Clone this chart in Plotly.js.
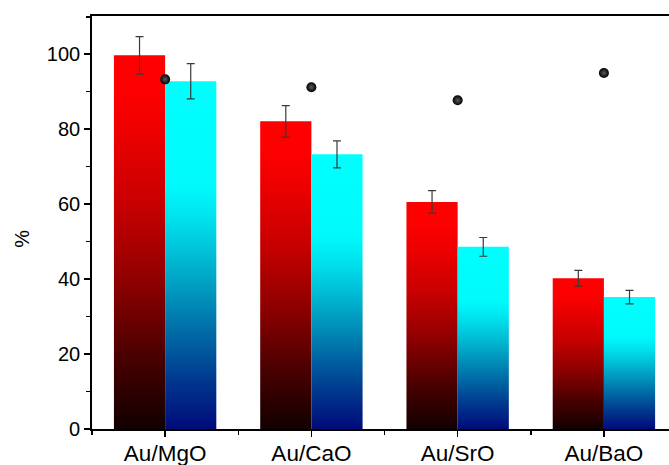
<!DOCTYPE html>
<html>
<head>
<meta charset="utf-8">
<script src="https://cdn.plot.ly/plotly-3.0.1.min.js"></script>
<style>html,body{margin:0;padding:0;background:#fff;}#chart{width:669px;height:465px;}</style>
</head>
<body>
<div id="chart"></div>
<script>
// ---- data ----
const categories = ['Au/MgO', 'Au/CaO', 'Au/SrO', 'Au/BaO'];
const redValues  = [99.7, 82.1, 60.6, 40.2];
const redErrors  = [5.0, 4.2, 3.0, 2.1];
const cyanValues = [92.8, 73.3, 48.6, 35.2];
const cyanErrors = [4.7, 3.6, 2.5, 1.8];
const dotValues  = [93.3, 91.2, 87.7, 95.0];
const yTitle = '%';

// ---- style ----
const barWidth = 0.35;
const redScale = [[0,'#120000'],[0.2,'#4c0000'],[0.4,'#900000'],[0.6,'#c80000'],[0.8,'#ee0000'],[0.9,'#fd0000'],[1,'#ff0000']];
const cyanScale = [[0,'#000a7a'],[0.15,'#003c90'],[0.3,'#0074aa'],[0.45,'#00acca'],[0.6,'#00e0ec'],[0.7,'#00fafc'],[1,'#00ffff']];
const idx = categories.map((c, i) => i);

const traces = [];
function addBars(values, offset, scale) {
  values.forEach((v, i) => {
    const x0 = i + offset - barWidth / 2, x1 = i + offset + barWidth / 2;
    traces.push({
      type: 'scatter', mode: 'none', fill: 'toself',
      x: [x0, x0, x1, x1, x0], y: [0, v, v, 0, 0],
      fillgradient: {type: 'vertical', start: 0, stop: v, colorscale: scale},
      hoverinfo: 'skip', showlegend: false
    });
  });
}
addBars(redValues, -barWidth / 2, redScale);
addBars(cyanValues, barWidth / 2, cyanScale);

function addErr(values, errs, offset) {
  traces.push({
    type: 'scatter', mode: 'markers',
    x: idx.map(i => i + offset), y: values,
    marker: {size: 1, opacity: 0},
    error_y: {type: 'data', array: errs, visible: true, color: '#3a3a3a', thickness: 1.2, width: 4},
    showlegend: false
  });
}
addErr(redValues, redErrors, -barWidth / 2);
addErr(cyanValues, cyanErrors, barWidth / 2);

traces.push({
  type: 'scatter', mode: 'markers', x: idx, y: dotValues,
  marker: {size: 10, color: '#000', gradient: {type: 'radial', color: '#5a5a5a'}, line: {width: 0}},
  showlegend: false
});

const axisFont = {family: 'Liberation Sans, Arial, sans-serif', color: '#000'};
const layout = {
  width: 669, height: 465,
  margin: {l: 92, r: 0, t: 16, b: 36},
  paper_bgcolor: '#fff', plot_bgcolor: '#fff',
  showlegend: false,
  xaxis: {
    range: [-0.5, 3.445], showgrid: false, zeroline: false,
    showline: true, linecolor: '#000', linewidth: 1.8, mirror: true,
    tickmode: 'array', tickvals: idx, ticktext: categories,
    ticks: 'outside', ticklen: 6, tickwidth: 1.5, tickcolor: '#000',
    ticklabelstandoff: -3,
    minor: {dtick: 0.5, tick0: 0, ticks: 'outside', ticklen: 4, tickwidth: 1.5, tickcolor: '#000'},
    tickfont: Object.assign({size: 22.5}, axisFont)
  },
  yaxis: {
    range: [0, 110.2], showgrid: false, zeroline: false,
    showline: true, linecolor: '#000', linewidth: 1.8,
    tickmode: 'linear', tick0: 0, dtick: 20,
    ticks: 'outside', ticklen: 6, tickwidth: 1.5, tickcolor: '#000',
    minor: {dtick: 10, tick0: 0, ticks: 'outside', ticklen: 4, tickwidth: 1.5, tickcolor: '#000'},
    tickfont: Object.assign({size: 20}, axisFont)
  },
  annotations: [{
    text: yTitle, textangle: -90, showarrow: false,
    xref: 'paper', yref: 'paper', x: -0.122, y: 0.46,
    xanchor: 'center', yanchor: 'middle',
    font: Object.assign({size: 20}, axisFont)
  }]
};
Plotly.newPlot('chart', traces, layout, {displayModeBar: false, staticPlot: true});
</script>
</body>
</html>
